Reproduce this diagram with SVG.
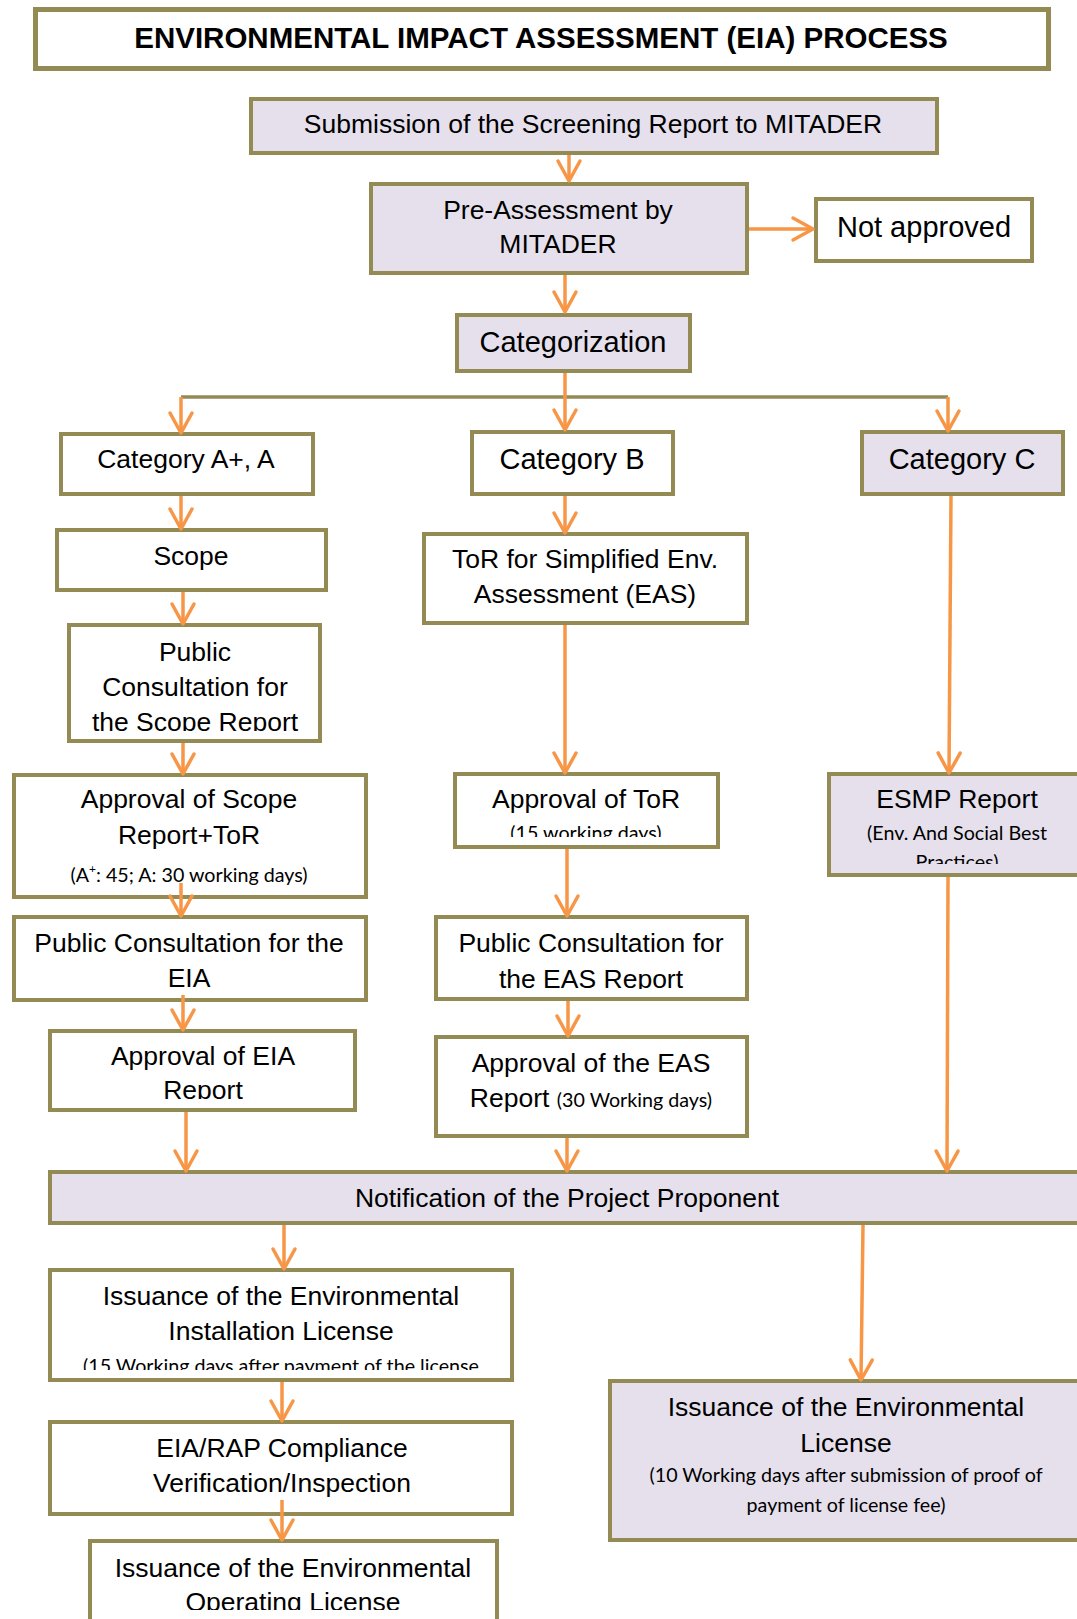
<svg xmlns="http://www.w3.org/2000/svg" width="1077" height="1619" viewBox="0 0 1077 1619">
<style>
.box{fill:#FFFFFF;stroke:#948A54;stroke-width:4}
.lav{fill:#E5E0EC;stroke:#948A54;stroke-width:4}
.t{font-family:"Liberation Sans",Arial,sans-serif;font-size:26.5px;fill:#000;text-anchor:middle}
.tl{font-family:"Liberation Sans",Arial,sans-serif;font-size:29px;fill:#000;text-anchor:middle}
.s{font-family:Lato,"Liberation Sans",sans-serif;font-size:19.7px;fill:#000;text-anchor:middle}
.title{font-family:"Liberation Sans",Arial,sans-serif;font-size:29.5px;font-weight:bold;fill:#000;text-anchor:middle}
.arr{fill:none;stroke:#F79646;stroke-width:3.5;marker-end:url(#chev)}
.br{fill:none;stroke:#948A54;stroke-width:3.5}
</style>
<defs>
<marker id="chev" markerUnits="userSpaceOnUse" viewBox="-24 -14 28 28" markerWidth="28" markerHeight="28" refX="0" refY="0" orient="auto">
<path d="M-20,-11 L0,0 L-20,11" fill="none" stroke="#F79646" stroke-width="3.5" stroke-linecap="round" stroke-linejoin="round"/>
</marker>
<clipPath id="cPubScope"><rect x="60" y="620" width="270" height="111"/></clipPath>
<clipPath id="cApprToR"><rect x="450" y="770" width="275" height="67"/></clipPath>
<clipPath id="cEsmp"><rect x="825" y="770" width="260" height="94"/></clipPath>
<clipPath id="cPubEAS"><rect x="430" y="912" width="325" height="77"/></clipPath>
<clipPath id="cApprEIA"><rect x="45" y="1025" width="320" height="74"/></clipPath>
<clipPath id="cInst"><rect x="45" y="1265" width="475" height="105"/></clipPath>
<clipPath id="cOper"><rect x="85" y="1535" width="420" height="75"/></clipPath>
</defs>
<rect width="1077" height="1619" fill="#FFFFFF"/>

<g id="title">
<rect x="35.5" y="9.5" width="1013" height="59" fill="#FFFFFF" stroke="#948A54" stroke-width="5"/>
<text class="title" x="541" y="48">ENVIRONMENTAL IMPACT ASSESSMENT (EIA) PROCESS</text>
</g>

<g id="submission">
<rect class="lav" x="251" y="99" width="686" height="54"/>
<text class="t" x="593" y="133">Submission of the Screening Report to MITADER</text>
</g>

<g id="pre-assessment">
<rect class="lav" x="371" y="184" width="376" height="89"/>
<text class="t" x="558" y="219">Pre-Assessment by</text>
<text class="t" x="558" y="253">MITADER</text>
</g>

<g id="not-approved">
<rect class="box" x="816" y="199" width="216" height="62"/>
<text class="tl" x="924" y="237">Not approved</text>
</g>

<g id="categorization">
<rect class="lav" x="457" y="315" width="233" height="56"/>
<text class="tl" x="573" y="352">Categorization</text>
</g>

<g id="category-a">
<rect class="box" x="61" y="434" width="252" height="60"/>
<text class="t" x="186" y="468">Category A+, A</text>
</g>

<g id="category-b">
<rect class="box" x="472" y="432" width="201" height="62"/>
<text class="tl" x="572" y="469">Category B</text>
</g>

<g id="category-c">
<rect class="lav" x="862" y="432" width="201" height="62"/>
<text class="tl" x="962" y="469">Category C</text>
</g>

<g id="scope">
<rect class="box" x="57" y="530" width="269" height="60"/>
<text class="t" x="191" y="565">Scope</text>
</g>

<g id="tor-eas">
<rect class="box" x="424" y="534" width="323" height="89"/>
<text class="t" x="585" y="568">ToR for Simplified Env.</text>
<text class="t" x="585" y="603">Assessment (EAS)</text>
</g>

<g id="public-consultation-scope">
<rect class="box" x="69" y="625" width="251" height="116"/>
<g clip-path="url(#cPubScope)">
<text class="t" x="195" y="661">Public</text>
<text class="t" x="195" y="696">Consultation for</text>
<text class="t" x="195" y="731">the Scope Report</text>
</g>
</g>

<g id="approval-scope">
<rect class="box" x="14" y="775" width="352" height="122"/>
<text class="t" x="189" y="808">Approval of Scope</text>
<text class="t" x="189" y="844">Report+ToR</text>
<text class="s" x="189" y="882">(A<tspan font-size="12" dy="-9">+</tspan><tspan dy="9">: 45; A: 30 working days)</tspan></text>
</g>

<g id="approval-tor">
<rect class="box" x="455" y="774" width="263" height="73"/>
<text class="t" x="586" y="808">Approval of ToR</text>
<g clip-path="url(#cApprToR)">
<text class="s" x="586" y="840">(15 working days)</text>
</g>
</g>

<g id="esmp">
<rect class="lav" x="829" y="774" width="260" height="101"/>
<text class="t" x="957" y="808">ESMP Report</text>
<g clip-path="url(#cEsmp)">
<text class="s" x="957" y="840">(Env. And Social Best</text>
<text class="s" x="957" y="869">Practices)</text>
</g>
</g>

<g id="public-consultation-eia">
<rect class="box" x="14" y="917" width="352" height="83"/>
<text class="t" x="189" y="952">Public Consultation for the</text>
<text class="t" x="189" y="987">EIA</text>
</g>

<g id="public-consultation-eas">
<rect class="box" x="436" y="917" width="311" height="82"/>
<g clip-path="url(#cPubEAS)">
<text class="t" x="591" y="952">Public Consultation for</text>
<text class="t" x="591" y="988">the EAS Report</text>
</g>
</g>

<g id="approval-eia">
<rect class="box" x="50" y="1031" width="305" height="79"/>
<text class="t" x="203" y="1065">Approval of EIA</text>
<g clip-path="url(#cApprEIA)">
<text class="t" x="203" y="1099">Report</text>
</g>
</g>

<g id="approval-eas">
<rect class="box" x="436" y="1037" width="311" height="99"/>
<text class="t" x="591" y="1072">Approval of the EAS</text>
<text class="t" x="591" y="1107">Report <tspan class="s" font-size="19.7px">(30 Working days)</tspan></text>
</g>

<g id="notification">
<rect class="lav" x="50" y="1172" width="1040" height="51"/>
<text class="t" x="567" y="1207">Notification of the Project Proponent</text>
</g>

<g id="installation-license">
<rect class="box" x="50" y="1270" width="462" height="110"/>
<text class="t" x="281" y="1305">Issuance of the Environmental</text>
<text class="t" x="281" y="1340">Installation License</text>
<g clip-path="url(#cInst)">
<text class="s" x="281" y="1373">(15 Working days after payment of the license</text>
</g>
</g>

<g id="compliance">
<rect class="box" x="50" y="1422" width="462" height="92"/>
<text class="t" x="282" y="1457">EIA/RAP Compliance</text>
<text class="t" x="282" y="1492">Verification/Inspection</text>
</g>

<g id="operating-license">
<rect class="box" x="90" y="1541" width="407" height="100"/>
<g clip-path="url(#cOper)">
<text class="t" x="293" y="1577">Issuance of the Environmental</text>
<text class="t" x="293" y="1611">Operating License</text>
</g>
</g>

<g id="environmental-license">
<rect class="lav" x="610" y="1381" width="480" height="159"/>
<text class="t" x="846" y="1416">Issuance of the Environmental</text>
<text class="t" x="846" y="1452">License</text>
<text class="s" x="846" y="1482">(10 Working days after submission of proof of</text>
<text class="s" x="846" y="1512">payment of license fee)</text>
</g>

<g id="connectors">
<path class="br" d="M181,397 L948,397"/>
<path class="arr" d="M569,155 L569,181"/>
<path class="arr" d="M749,229 L813,229"/>
<path class="arr" d="M565,275 L565,312"/>
<path class="arr" d="M565,373 L565,430"/>
<path class="arr" d="M181,397 L181,433"/>
<path class="arr" d="M948,397 L948,431"/>
<path class="arr" d="M181,496 L181,529"/>
<path class="arr" d="M565,496 L565,533"/>
<path class="arr" d="M951,496 L949,773"/>
<path class="arr" d="M183,592 L183,624"/>
<path class="arr" d="M565,625 L565,773"/>
<path class="arr" d="M183,743 L183,774"/>
<path class="arr" d="M181,883 L181,916"/>
<path class="arr" d="M567,849 L567,916"/>
<path class="arr" d="M183,995 L183,1030"/>
<path class="arr" d="M568,1001 L568,1036"/>
<path class="arr" d="M186,1112 L186,1171"/>
<path class="arr" d="M567,1138 L567,1171"/>
<path class="arr" d="M948,877 L947,1171"/>
<path class="arr" d="M284,1225 L284,1269"/>
<path class="arr" d="M863,1225 L861,1380"/>
<path class="arr" d="M282,1382 L282,1421"/>
<path class="arr" d="M282,1500 L282,1540"/>
</g>
</svg>
